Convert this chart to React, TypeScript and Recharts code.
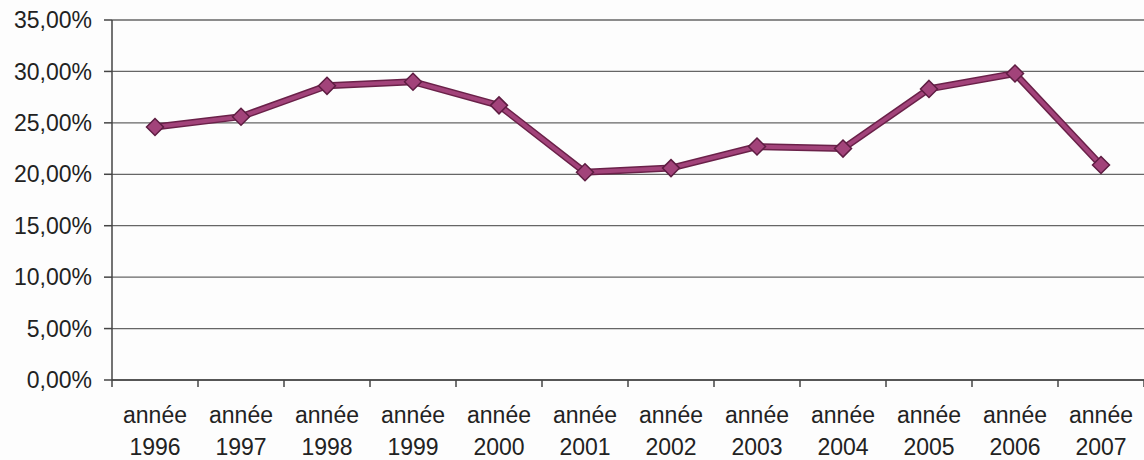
import React from "react";
import { LineChart, Line, XAxis, YAxis, CartesianGrid } from "recharts";

const categories = ["1996", "1997", "1998", "1999", "2000", "2001", "2002", "2003", "2004", "2005", "2006", "2007"];
const values = [0.246, 0.256, 0.286, 0.29, 0.267, 0.202, 0.206, 0.227, 0.225, 0.283, 0.298, 0.209];
const yTicks = [0, 0.05, 0.1, 0.15, 0.2, 0.25, 0.3, 0.35];
const labelPrefix = "année";

const data = categories.map((c, i) => ({ x: i + 0.5, year: c, v: values[i] }));
const boundaryTicks = categories.map((_, i) => i).concat([categories.length]);
const centerTicks = categories.map((_, i) => i + 0.5);

const FONT = "'Liberation Sans', Arial, sans-serif";

const fmtPct = (v: number) => (v * 100).toFixed(2).replace(".", ",") + "%";

const Diamond = (props: any) => {
  const { cx, cy } = props;
  if (cx == null || cy == null) return null;
  const r = 8.5;
  return (
    <polygon
      points={`${cx},${cy - r} ${cx + r},${cy} ${cx},${cy + r} ${cx - r},${cy}`}
      fill="#A2437A"
      stroke="#5E1D42"
      strokeWidth={1.5}
    />
  );
};

const LabelTick = (props: any) => {
  const { x, y, payload } = props;
  const idx = Math.floor(payload.value);
  const year = categories[idx];
  if (!year) return null;
  return (
    <text x={x} textAnchor="middle" fontFamily={FONT} fontSize={23} fill="#222">
      <tspan x={x} y={y + 33}>{labelPrefix}</tspan>
      <tspan x={x} y={y + 65}>{year}</tspan>
    </text>
  );
};

export default function App() {
  return (
    <div style={{ position: "absolute", left: 0, top: 0, width: 1144, height: 460, background: "#fdfdfd" }}>
      <LineChart width={1144} height={460} data={data} margin={{ top: 20, right: 0, bottom: 0, left: 0 }}>
        <CartesianGrid vertical={false} stroke="#666" strokeWidth={1.3} />
        <XAxis
          dataKey="x"
          type="number"
          domain={[0, categories.length]}
          ticks={boundaryTicks}
          interval={0}
          tickFormatter={() => ""}
          tickSize={7}
          height={10}
          stroke="#444"
          strokeWidth={1.5}
        />
        <XAxis
          xAxisId="lbl"
          dataKey="x"
          type="number"
          domain={[0, categories.length]}
          ticks={centerTicks}
          interval={0}
          axisLine={false}
          tickLine={false}
          tickSize={0}
          tickMargin={0}
          height={70}
          tick={<LabelTick />}
        />
        <YAxis
          type="number"
          domain={[0, 0.35]}
          ticks={yTicks}
          interval={0}
          width={112}
          tickFormatter={fmtPct}
          tickSize={8}
          tickMargin={12}
          stroke="#444"
          strokeWidth={1.5}
          tick={{ fontFamily: FONT, fontSize: 23, fill: "#222" }}
        />
        <Line
          dataKey="v"
          stroke="#6A2149"
          strokeWidth={7}
          dot={false}
          activeDot={false}
          isAnimationActive={false}
        />
        <Line
          dataKey="v"
          stroke="#A2437A"
          strokeWidth={4}
          dot={<Diamond />}
          activeDot={false}
          isAnimationActive={false}
        />
      </LineChart>
    </div>
  );
}
